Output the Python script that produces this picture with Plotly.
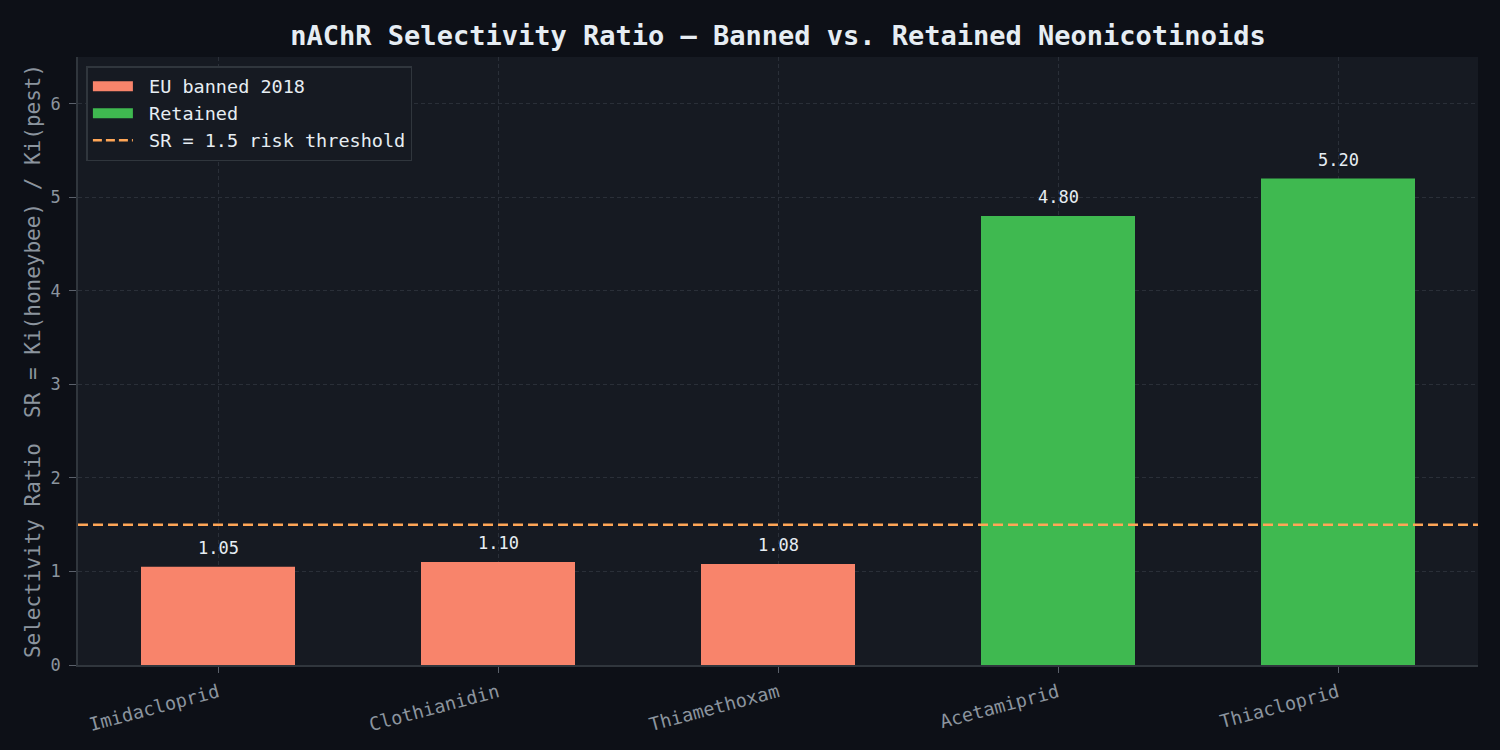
import plotly.graph_objects as go

categories = ["Imidacloprid", "Clothianidin", "Thiamethoxam", "Acetamiprid", "Thiacloprid"]
sr_values = [1.05, 1.10, 1.08, 4.80, 5.20]
status = ["banned", "banned", "banned", "retained", "retained"]
threshold = 1.5

BANNED_COLOR = "#f8846b"
RETAINED_COLOR = "#3fb950"
LINE_COLOR = "#ffa657"
FONT = "DejaVu Sans Mono"

fig = go.Figure()
banned_x = [c for c, s in zip(categories, status) if s == "banned"]
banned_y = [v for v, s in zip(sr_values, status) if s == "banned"]
ret_x = [c for c, s in zip(categories, status) if s == "retained"]
ret_y = [v for v, s in zip(sr_values, status) if s == "retained"]

fig.add_trace(go.Bar(x=banned_x, y=banned_y, name="EU banned 2018", showlegend=False,
                     marker=dict(color=BANNED_COLOR, line=dict(width=0)), width=0.55))
fig.add_trace(go.Bar(x=ret_x, y=ret_y, name="Retained", showlegend=False,
                     marker=dict(color=RETAINED_COLOR, line=dict(width=0)), width=0.55))
# legend entries (patch-like rectangles)
fig.add_trace(go.Scatter(x=[None], y=[None], mode="lines", name=" EU banned 2018",
                         line=dict(color=BANNED_COLOR, width=13)))
fig.add_trace(go.Scatter(x=[None], y=[None], mode="lines", name=" Retained",
                         line=dict(color=RETAINED_COLOR, width=13)))
fig.add_trace(go.Scatter(x=[None], y=[None], mode="lines", name=" SR = 1.5 risk threshold",
                         line=dict(color=LINE_COLOR, width=2.5, dash="9px,4px")))

fig.add_shape(type="line", xref="paper", x0=0, x1=1, yref="y", y0=threshold, y1=threshold,
              line=dict(color=LINE_COLOR, width=2.5, dash="10px,5px"), layer="above")

for c, v in zip(categories, sr_values):
    fig.add_annotation(x=c, y=v, text=f"{v:.2f}", showarrow=False, yanchor="bottom",
                       yshift=7, font=dict(family=FONT, size=17, color="#e6edf3"))

fig.update_layout(
    width=1500, height=750,
    paper_bgcolor="#0d1017", plot_bgcolor="#161a22",
    margin=dict(l=78, r=22, t=57, b=85),
    barmode="overlay",
    title=dict(text="<b>nAChR Selectivity Ratio — Banned vs. Retained Neonicotinoids</b>",
               x=0.5, xref="paper", xanchor="center", y=0.952, yanchor="middle",
               font=dict(family=FONT, size=27, color="#e6edf3")),
    font=dict(family=FONT, color="#8b949e"),
    legend=dict(x=0.006, y=0.985, xanchor="left", yanchor="top",
                bgcolor="#161a22", bordercolor="#30363d", borderwidth=1.5,
                font=dict(family=FONT, size=18.5, color="#e6edf3"), tracegroupgap=0,
                itemwidth=40),
    showlegend=True,
)
fig.update_xaxes(range=[-0.5, 4.5], tickangle=-15, showgrid=True, gridcolor="#2a2f38",
                 griddash="4px,3px", gridwidth=1, showline=True, linecolor="#30363d", linewidth=1.5,
                 ticks="outside", ticklen=6, tickcolor="#5a606a", ticklabelstandoff=2,
                 tickfont=dict(family=FONT, size=18.5, color="#8b949e"), zeroline=False)
fig.update_yaxes(range=[0, 6.5], dtick=1, showgrid=True, gridcolor="#2a2f38",
                 griddash="4px,3px", gridwidth=1, showline=True, linecolor="#30363d", linewidth=1.5,
                 ticks="outside", ticklen=7, tickcolor="#5a606a", ticklabelstandoff=5,
                 tickfont=dict(family=FONT, size=17, color="#8b949e"), zeroline=False,
                 title=dict(text="Selectivity Ratio  SR = Ki(honeybee) / Ki(pest)", standoff=4,
                            font=dict(family=FONT, size=21, color="#8b949e")))

fig.write_html("out.html")
